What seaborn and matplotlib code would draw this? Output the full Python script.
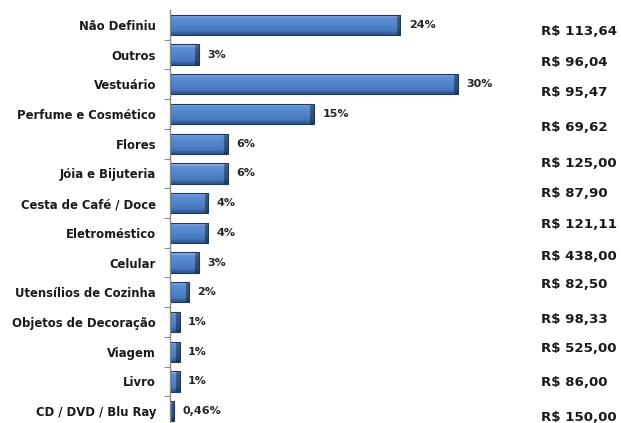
import numpy as np
import pandas as pd
import matplotlib
matplotlib.use("Agg")
import matplotlib.pyplot as plt
import seaborn as sns
from matplotlib.colors import to_rgb
from matplotlib.transforms import blended_transform_factory

categorias = [
    "Não Definiu", "Outros", "Vestuário", "Perfume e Cosmético", "Flores",
    "Jóia e Bijuteria", "Cesta de Café / Doce", "Eletroméstico", "Celular",
    "Utensílios de Cozinha", "Objetos de Decoração", "Viagem", "Livro",
    "CD / DVD / Blu Ray",
]
percentuais = [24, 3, 30, 15, 6, 6, 4, 4, 3, 2, 1, 1, 1, 0.46]
rotulos_pct = ["24%", "3%", "30%", "15%", "6%", "6%", "4%", "4%", "3%",
               "2%", "1%", "1%", "1%", "0,46%"]
ticket_medio = ["R$ 113,64", "R$ 96,04", "R$ 95,47", "R$ 69,62", "R$ 125,00",
                "R$ 87,90", "R$ 121,11", "R$ 438,00", "R$ 82,50", "R$ 98,33",
                "R$ 525,00", "R$ 86,00", "R$ 150,00"]
# vertical placement of the price column (in category-row units)
linhas_preco = [0.24, 1.28, 2.26, 3.47, 4.65, 5.66, 6.73, 7.81, 8.75,
                9.9, 10.88, 12.05, 13.2]

df = pd.DataFrame({"categoria": categorias, "pct": percentuais})

sns.set_theme(style="white")
plt.rcParams["font.family"] = ["DejaVu Sans"]

fig = plt.figure(figsize=(6.21, 4.23), dpi=100)
ax = fig.add_axes([170 / 621, 0.0, 336 / 621, 413 / 423])

sns.barplot(data=df, x="pct", y="categoria", orient="h", ax=ax,
            color="#4f81bd", width=0.68, edgecolor="#1f3864", linewidth=0.8,
            saturation=1)

# bevelled gradient fill for each bar
c_top = np.array(to_rgb("#9dbce8"))
c_mid = np.array(to_rgb("#5f90d4"))
c_low = np.array(to_rgb("#4877bd"))
c_bot = np.array(to_rgb("#2a5189"))
rows = 40
t = np.linspace(0, 1, rows)
vert = np.zeros((rows, 3))
for i, v in enumerate(t):
    if v < 0.18:
        vert[i] = c_top + (c_mid - c_top) * (v / 0.18)
    elif v < 0.8:
        vert[i] = c_mid + (c_low - c_mid) * ((v - 0.18) / 0.62)
    else:
        vert[i] = c_low + (c_bot - c_low) * ((v - 0.8) / 0.2)

for p in list(ax.patches):
    x0, y0, w, h = p.get_x(), p.get_y(), p.get_width(), p.get_height()
    cols = max(int(w * 30), 4)
    xs = np.linspace(x0, x0 + w, cols)
    shade = np.ones(cols)
    shade[xs > x0 + w - 0.4] = 0.62
    shade[xs < x0 + 0.15] = 0.85
    img = vert[:, None, :] * shade[None, :, None]
    im = ax.imshow(np.clip(img, 0, 1), extent=(x0, x0 + w, y0 + h, y0),
                   origin="upper", aspect="auto", zorder=p.get_zorder() + 0.1,
                   interpolation="bilinear")
    im.set_clip_path(p)
    p.set_zorder(p.get_zorder() + 0.2)
    p.set_facecolor("none")

ax.set_xlim(0, 35)
ax.set_ylim(13.4, -0.5)
ax.set_xlabel("")
ax.set_ylabel("")
ax.set_xticks([])

for s in ["top", "right", "bottom"]:
    ax.spines[s].set_visible(False)
ax.spines["left"].set_color("#8c8c8c")
ax.spines["left"].set_linewidth(1.0)

ax.set_yticks(range(len(categorias)))
ax.set_yticklabels(categorias, fontsize=8.4, fontweight="bold", color="#1a1a1a")
ax.tick_params(axis="y", which="major", length=0, pad=10)
ax.set_yticks(np.arange(0.5, len(categorias) - 0.5, 1), minor=True)
ax.tick_params(axis="y", which="minor", length=4, width=0.8,
               color="#8c8c8c", direction="out", left=True)

for i, (v, lab) in enumerate(zip(percentuais, rotulos_pct)):
    ax.annotate(lab, xy=(v, i), xytext=(6, 0), textcoords="offset points",
                va="center", ha="left", fontsize=8.0, fontweight="bold",
                color="#262626")

tr = blended_transform_factory(fig.transFigure, ax.transData)
for lab, yy in zip(ticket_medio, linhas_preco):
    ax.text(541 / 621, yy, lab, transform=tr, ha="left", va="center",
            fontsize=9.6, fontweight="bold", color="#1a1a1a", clip_on=False)

fig.savefig("out.png", dpi=100, facecolor="white")
